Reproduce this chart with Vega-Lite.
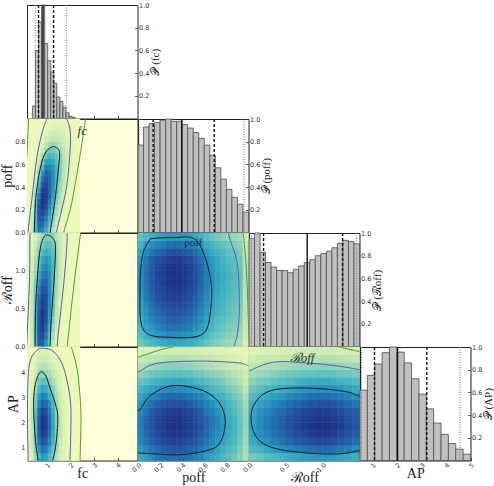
{
"$schema": "https://vega.github.io/schema/vega-lite/v6.json",
"padding": {"left": 0, "top": 1, "right": 0, "bottom": 0},
"background": "white",
"spacing": 0,
"bounds": "flush",
"columns": 4,
"resolve": {"scale": {"fill": "independent", "stroke": "independent"}},
"config": {
  "view": {"stroke": "#222", "strokeWidth": 1},
  "axis": {"grid": false, "domain": false, "tickSize": -3, "tickColor": "#333", "tickWidth": 0.8, "labelFontSize": 6.5, "labelFont": "DejaVu Sans", "labelColor": "#333", "labelPadding": 5, "labelFlush": false, "labelOverlap": false, "titleFont": "Liberation Serif", "titleFontSize": 14, "titleFontWeight": "normal", "titleColor": "#222", "titlePadding": 0},
  "axisBottom": {"titlePadding": -3, "labelPadding": 4},
  "axisRight": {"labelPadding": 4}
},
"datasets": {
  "fgrid": [{"i":1,"a":0.15,"b":0.3},{"i":2,"a":0.3,"b":0.45},{"i":3,"a":0.45,"b":0.6},{"i":4,"a":0.6,"b":0.75},{"i":5,"a":0.75,"b":0.9},{"i":6,"a":0.9,"b":1.05},{"i":7,"a":1.05,"b":1.2},{"i":8,"a":1.2,"b":1.35},{"i":9,"a":1.35,"b":1.5},{"i":10,"a":1.5,"b":1.65},{"i":11,"a":1.65,"b":1.8},{"i":12,"a":1.8,"b":1.95},{"i":13,"a":1.95,"b":2.1},{"i":14,"a":2.1,"b":2.25},{"i":15,"a":2.25,"b":2.4}],
  "pgrid": [{"i":1,"a":0,"b":0.05},{"i":2,"a":0.05,"b":0.1},{"i":3,"a":0.1,"b":0.15},{"i":4,"a":0.15,"b":0.2},{"i":5,"a":0.2,"b":0.25},{"i":6,"a":0.25,"b":0.3},{"i":7,"a":0.3,"b":0.35},{"i":8,"a":0.35,"b":0.4},{"i":9,"a":0.4,"b":0.45},{"i":10,"a":0.45,"b":0.5},{"i":11,"a":0.5,"b":0.55},{"i":12,"a":0.55,"b":0.6},{"i":13,"a":0.6,"b":0.65},{"i":14,"a":0.65,"b":0.7},{"i":15,"a":0.7,"b":0.75},{"i":16,"a":0.75,"b":0.8},{"i":17,"a":0.8,"b":0.85},{"i":18,"a":0.85,"b":0.9},{"i":19,"a":0.9,"b":0.95},{"i":20,"a":0.95,"b":1}],
  "rgrid": [{"i":1,"a":0,"b":0.1},{"i":2,"a":0.1,"b":0.2},{"i":3,"a":0.2,"b":0.3},{"i":4,"a":0.3,"b":0.4},{"i":5,"a":0.4,"b":0.5},{"i":6,"a":0.5,"b":0.6},{"i":7,"a":0.6,"b":0.7},{"i":8,"a":0.7,"b":0.8},{"i":9,"a":0.8,"b":0.9},{"i":10,"a":0.9,"b":1},{"i":11,"a":1,"b":1.1},{"i":12,"a":1.1,"b":1.2},{"i":13,"a":1.2,"b":1.3},{"i":14,"a":1.3,"b":1.4},{"i":15,"a":1.4,"b":1.5}],
  "hA": [
    {"y0":0,"y1":0.05,"v":[0.03,0.17,0.51,0.73,0.67,0.53,0.36,0.21,0.11,0.05,0.02,0.01,0,0,0]},
    {"y0":0.05,"y1":0.1,"v":[0.02,0.16,0.5,0.79,0.76,0.62,0.44,0.27,0.14,0.06,0.02,0.01,0,0,0]},
    {"y0":0.1,"y1":0.15,"v":[0.02,0.14,0.49,0.84,0.84,0.71,0.52,0.33,0.18,0.09,0.04,0.01,0,0,0]},
    {"y0":0.15,"y1":0.2,"v":[0.02,0.13,0.46,0.86,0.91,0.8,0.6,0.4,0.23,0.12,0.05,0.02,0.01,0,0]},
    {"y0":0.2,"y1":0.25,"v":[0.02,0.11,0.42,0.86,0.97,0.87,0.69,0.47,0.29,0.15,0.07,0.03,0.01,0,0]},
    {"y0":0.25,"y1":0.3,"v":[0.01,0.09,0.37,0.8,1,0.92,0.75,0.54,0.34,0.19,0.09,0.04,0.02,0.01,0]},
    {"y0":0.3,"y1":0.35,"v":[0.01,0.07,0.3,0.72,0.99,0.94,0.79,0.59,0.39,0.23,0.12,0.05,0.02,0.01,0]},
    {"y0":0.35,"y1":0.4,"v":[0.01,0.05,0.24,0.62,0.94,0.93,0.81,0.62,0.43,0.26,0.14,0.07,0.03,0.01,0]},
    {"y0":0.4,"y1":0.45,"v":[0.01,0.04,0.18,0.51,0.86,0.91,0.81,0.65,0.46,0.29,0.17,0.09,0.04,0.02,0]},
    {"y0":0.45,"y1":0.5,"v":[0,0.03,0.14,0.41,0.76,0.87,0.8,0.66,0.49,0.32,0.19,0.1,0.05,0.02,0]},
    {"y0":0.5,"y1":0.55,"v":[0,0.02,0.1,0.31,0.63,0.8,0.76,0.65,0.5,0.34,0.21,0.12,0.06,0.03,0.01]},
    {"y0":0.55,"y1":0.6,"v":[0,0.01,0.07,0.23,0.49,0.7,0.69,0.61,0.49,0.35,0.22,0.13,0.07,0.03,0.01]},
    {"y0":0.6,"y1":0.65,"v":[0,0.01,0.04,0.16,0.37,0.57,0.6,0.55,0.45,0.34,0.23,0.14,0.08,0.04,0.02]},
    {"y0":0.65,"y1":0.7,"v":[0,0.01,0.03,0.1,0.26,0.43,0.5,0.47,0.4,0.31,0.22,0.14,0.08,0.04,0.02]},
    {"y0":0.7,"y1":0.75,"v":[0,0.01,0.02,0.06,0.16,0.31,0.39,0.38,0.33,0.26,0.19,0.13,0.08,0.04,0.02]},
    {"y0":0.75,"y1":0.8,"v":[0,0,0.01,0.03,0.1,0.2,0.28,0.29,0.26,0.21,0.16,0.11,0.07,0.04,0.02]},
    {"y0":0.8,"y1":0.85,"v":[0,0,0.01,0.02,0.06,0.12,0.19,0.21,0.2,0.17,0.13,0.09,0.06,0.04,0.02]},
    {"y0":0.85,"y1":0.9,"v":[0,0,0,0.01,0.03,0.07,0.12,0.14,0.13,0.12,0.1,0.07,0.05,0.03,0.02]},
    {"y0":0.9,"y1":0.95,"v":[0,0,0,0,0.01,0.04,0.07,0.09,0.09,0.08,0.07,0.05,0.04,0.02,0.01]},
    {"y0":0.95,"y1":1,"v":[0,0,0,0,0,0.02,0.03,0.05,0.05,0.05,0.04,0.03,0.02,0.01,0.01]}
  ],
  "hB": [
    {"y0":0,"y1":0.1,"v":[0.02,0.13,0.44,0.81,0.83,0.64,0.4,0.2,0.08,0.02,0.01,0,0,0,0]},
    {"y0":0.1,"y1":0.2,"v":[0.03,0.15,0.47,0.85,0.9,0.72,0.47,0.24,0.1,0.03,0.01,0,0,0,0]},
    {"y0":0.2,"y1":0.3,"v":[0.03,0.16,0.49,0.87,0.96,0.8,0.54,0.29,0.13,0.05,0.01,0,0,0,0]},
    {"y0":0.3,"y1":0.4,"v":[0.04,0.18,0.49,0.88,0.99,0.86,0.6,0.34,0.16,0.06,0.02,0.01,0,0,0]},
    {"y0":0.4,"y1":0.5,"v":[0.05,0.18,0.48,0.85,1,0.88,0.64,0.38,0.19,0.08,0.03,0.01,0,0,0]},
    {"y0":0.5,"y1":0.6,"v":[0.05,0.18,0.45,0.8,0.97,0.88,0.66,0.42,0.21,0.09,0.03,0.01,0,0,0]},
    {"y0":0.6,"y1":0.7,"v":[0.05,0.17,0.43,0.74,0.93,0.87,0.68,0.44,0.24,0.11,0.04,0.01,0,0,0]},
    {"y0":0.7,"y1":0.8,"v":[0.05,0.17,0.39,0.68,0.87,0.84,0.68,0.46,0.26,0.12,0.05,0.02,0,0,0]},
    {"y0":0.8,"y1":0.9,"v":[0.05,0.15,0.35,0.61,0.8,0.8,0.67,0.47,0.28,0.14,0.06,0.02,0.01,0,0]},
    {"y0":0.9,"y1":1,"v":[0.05,0.14,0.31,0.54,0.72,0.75,0.65,0.48,0.29,0.15,0.07,0.03,0.01,0,0]},
    {"y0":1,"y1":1.1,"v":[0.04,0.12,0.27,0.47,0.64,0.69,0.61,0.46,0.3,0.17,0.08,0.03,0.01,0,0]},
    {"y0":1.1,"y1":1.2,"v":[0.04,0.11,0.23,0.41,0.56,0.62,0.57,0.45,0.3,0.17,0.09,0.04,0.01,0,0]},
    {"y0":1.2,"y1":1.3,"v":[0.04,0.09,0.19,0.34,0.47,0.54,0.51,0.42,0.29,0.18,0.09,0.04,0.02,0,0]},
    {"y0":1.3,"y1":1.4,"v":[0.03,0.07,0.16,0.27,0.38,0.45,0.44,0.37,0.26,0.17,0.09,0.04,0.02,0,0]},
    {"y0":1.4,"y1":1.5,"v":[0.02,0.06,0.12,0.2,0.29,0.35,0.35,0.31,0.23,0.15,0.09,0.04,0.02,0,0]}
  ],
  "hC": [
    {"y0":0.5,"y1":0.8,"v":[0.03,0.11,0.29,0.52,0.62,0.58,0.47,0.35,0.22,0.12,0.06,0.03,0.01,0,0]},
    {"y0":0.8,"y1":1.1,"v":[0.03,0.14,0.36,0.63,0.76,0.71,0.58,0.42,0.27,0.15,0.08,0.03,0.01,0,0]},
    {"y0":1.1,"y1":1.4,"v":[0.04,0.16,0.41,0.73,0.88,0.82,0.67,0.49,0.31,0.17,0.09,0.04,0.01,0,0]},
    {"y0":1.4,"y1":1.7,"v":[0.04,0.17,0.45,0.8,0.96,0.9,0.74,0.53,0.34,0.19,0.1,0.04,0.02,0,0]},
    {"y0":1.7,"y1":2,"v":[0.05,0.18,0.47,0.84,1,0.93,0.77,0.56,0.36,0.2,0.1,0.04,0.02,0.01,0]},
    {"y0":2,"y1":2.3,"v":[0.05,0.18,0.46,0.83,0.99,0.92,0.76,0.55,0.35,0.2,0.1,0.04,0.02,0,0]},
    {"y0":2.3,"y1":2.6,"v":[0.04,0.17,0.44,0.78,0.93,0.87,0.71,0.52,0.33,0.18,0.09,0.04,0.01,0,0]},
    {"y0":2.6,"y1":2.9,"v":[0.04,0.15,0.39,0.69,0.83,0.78,0.64,0.46,0.29,0.16,0.08,0.04,0.01,0,0]},
    {"y0":2.9,"y1":3.2,"v":[0.03,0.13,0.33,0.59,0.71,0.66,0.54,0.4,0.25,0.14,0.07,0.03,0.01,0,0]},
    {"y0":3.2,"y1":3.5,"v":[0.03,0.1,0.27,0.48,0.58,0.54,0.44,0.32,0.21,0.11,0.06,0.02,0.01,0,0]},
    {"y0":3.5,"y1":3.8,"v":[0.02,0.08,0.21,0.38,0.45,0.42,0.34,0.25,0.16,0.09,0.04,0.02,0.01,0,0]},
    {"y0":3.8,"y1":4.1,"v":[0.02,0.06,0.15,0.28,0.33,0.31,0.25,0.18,0.12,0.07,0.03,0.01,0.01,0,0]},
    {"y0":4.1,"y1":4.4,"v":[0.01,0.04,0.11,0.19,0.23,0.21,0.18,0.13,0.08,0.05,0.02,0.01,0,0,0]},
    {"y0":4.4,"y1":4.7,"v":[0.01,0.03,0.07,0.13,0.15,0.14,0.11,0.08,0.05,0.03,0.01,0.01,0,0,0]},
    {"y0":4.7,"y1":5,"v":[0,0.02,0.04,0.08,0.09,0.08,0.07,0.05,0.03,0.02,0.01,0,0,0,0]}
  ],
  "hD": [
    {"y0":0,"y1":0.1,"v":[0.25,0.31,0.35,0.39,0.42,0.44,0.45,0.45,0.43,0.41,0.37,0.33,0.28,0.24,0.21,0.18,0.17,0.15,0.13,0.05]},
    {"y0":0.1,"y1":0.2,"v":[0.31,0.39,0.44,0.5,0.53,0.56,0.57,0.56,0.55,0.52,0.47,0.42,0.35,0.3,0.26,0.23,0.21,0.19,0.16,0.07]},
    {"y0":0.2,"y1":0.3,"v":[0.36,0.45,0.51,0.57,0.61,0.65,0.66,0.65,0.63,0.6,0.55,0.48,0.41,0.35,0.3,0.27,0.24,0.22,0.18,0.08]},
    {"y0":0.3,"y1":0.4,"v":[0.41,0.5,0.58,0.64,0.69,0.73,0.74,0.73,0.71,0.67,0.61,0.54,0.46,0.39,0.34,0.3,0.27,0.24,0.21,0.09]},
    {"y0":0.4,"y1":0.5,"v":[0.44,0.54,0.62,0.7,0.74,0.78,0.8,0.79,0.77,0.73,0.66,0.58,0.5,0.42,0.37,0.33,0.3,0.26,0.22,0.1]},
    {"y0":0.5,"y1":0.6,"v":[0.47,0.58,0.67,0.75,0.8,0.84,0.86,0.85,0.83,0.78,0.71,0.63,0.53,0.46,0.4,0.35,0.32,0.28,0.24,0.1]},
    {"y0":0.6,"y1":0.7,"v":[0.5,0.62,0.71,0.79,0.85,0.89,0.91,0.9,0.87,0.83,0.76,0.66,0.56,0.48,0.42,0.37,0.34,0.3,0.25,0.11]},
    {"y0":0.7,"y1":0.8,"v":[0.52,0.65,0.74,0.83,0.88,0.93,0.95,0.94,0.91,0.86,0.79,0.69,0.59,0.5,0.44,0.39,0.35,0.31,0.27,0.11]},
    {"y0":0.8,"y1":0.9,"v":[0.54,0.67,0.77,0.86,0.92,0.97,0.99,0.98,0.95,0.9,0.82,0.72,0.61,0.52,0.46,0.41,0.37,0.33,0.28,0.12]},
    {"y0":0.9,"y1":1,"v":[0.55,0.68,0.78,0.87,0.93,0.98,1,0.99,0.96,0.91,0.83,0.73,0.62,0.53,0.46,0.41,0.37,0.33,0.28,0.12]},
    {"y0":1,"y1":1.1,"v":[0.54,0.67,0.76,0.85,0.91,0.96,0.98,0.97,0.94,0.89,0.81,0.72,0.61,0.52,0.45,0.4,0.36,0.32,0.27,0.12]},
    {"y0":1.1,"y1":1.2,"v":[0.51,0.63,0.73,0.81,0.86,0.91,0.93,0.92,0.89,0.85,0.77,0.68,0.58,0.49,0.43,0.38,0.34,0.31,0.26,0.11]},
    {"y0":1.2,"y1":1.3,"v":[0.45,0.56,0.64,0.71,0.76,0.8,0.82,0.81,0.79,0.75,0.68,0.6,0.51,0.43,0.38,0.34,0.3,0.27,0.23,0.1]},
    {"y0":1.3,"y1":1.4,"v":[0.37,0.46,0.53,0.59,0.63,0.67,0.68,0.67,0.65,0.62,0.56,0.5,0.42,0.36,0.31,0.28,0.25,0.22,0.19,0.08]},
    {"y0":1.4,"y1":1.5,"v":[0.29,0.35,0.41,0.45,0.48,0.51,0.52,0.51,0.5,0.47,0.43,0.38,0.32,0.28,0.24,0.21,0.19,0.17,0.15,0.06]}
  ],
  "hE": [
    {"y0":0.5,"y1":0.8,"v":[0.43,0.5,0.57,0.62,0.66,0.69,0.7,0.69,0.68,0.65,0.61,0.56,0.5,0.45,0.4,0.35,0.31,0.26,0.2,0.13]},
    {"y0":0.8,"y1":1.1,"v":[0.5,0.58,0.65,0.7,0.75,0.78,0.8,0.79,0.78,0.74,0.7,0.64,0.58,0.51,0.46,0.4,0.35,0.3,0.23,0.14]},
    {"y0":1.1,"y1":1.4,"v":[0.56,0.65,0.73,0.79,0.85,0.88,0.9,0.89,0.87,0.84,0.78,0.72,0.65,0.58,0.51,0.45,0.4,0.33,0.26,0.16]},
    {"y0":1.4,"y1":1.7,"v":[0.6,0.7,0.79,0.85,0.91,0.95,0.97,0.96,0.94,0.9,0.84,0.78,0.7,0.62,0.55,0.49,0.43,0.36,0.28,0.17]},
    {"y0":1.7,"y1":2,"v":[0.62,0.72,0.81,0.88,0.94,0.98,1,0.99,0.97,0.93,0.87,0.8,0.72,0.64,0.57,0.5,0.44,0.37,0.29,0.18]},
    {"y0":2,"y1":2.3,"v":[0.61,0.71,0.79,0.86,0.92,0.96,0.98,0.97,0.95,0.91,0.85,0.78,0.71,0.63,0.56,0.49,0.43,0.36,0.28,0.18]},
    {"y0":2.3,"y1":2.6,"v":[0.57,0.66,0.75,0.81,0.86,0.9,0.92,0.91,0.89,0.86,0.8,0.74,0.66,0.59,0.52,0.46,0.4,0.34,0.27,0.17]},
    {"y0":2.6,"y1":2.9,"v":[0.51,0.6,0.67,0.73,0.78,0.81,0.83,0.82,0.81,0.77,0.72,0.66,0.6,0.53,0.47,0.42,0.37,0.31,0.24,0.15]},
    {"y0":2.9,"y1":3.2,"v":[0.44,0.51,0.58,0.62,0.67,0.7,0.71,0.7,0.69,0.66,0.62,0.57,0.51,0.45,0.4,0.36,0.31,0.26,0.21,0.13]},
    {"y0":3.2,"y1":3.5,"v":[0.35,0.41,0.46,0.5,0.54,0.56,0.57,0.56,0.55,0.53,0.5,0.46,0.41,0.36,0.32,0.29,0.25,0.21,0.17,0.1]},
    {"y0":3.5,"y1":3.8,"v":[0.27,0.31,0.35,0.38,0.4,0.42,0.43,0.43,0.42,0.4,0.37,0.34,0.31,0.28,0.25,0.22,0.19,0.16,0.12,0.08]},
    {"y0":3.8,"y1":4.1,"v":[0.19,0.22,0.25,0.27,0.29,0.3,0.31,0.31,0.3,0.29,0.27,0.25,0.22,0.2,0.18,0.16,0.14,0.11,0.09,0.06]},
    {"y0":4.1,"y1":4.4,"v":[0.12,0.14,0.16,0.18,0.19,0.2,0.2,0.2,0.19,0.19,0.17,0.16,0.14,0.13,0.11,0.1,0.09,0.07,0.06,0.04]},
    {"y0":4.4,"y1":4.7,"v":[0.07,0.09,0.1,0.11,0.11,0.12,0.12,0.12,0.12,0.11,0.1,0.1,0.09,0.08,0.07,0.06,0.05,0.04,0.03,0.02]},
    {"y0":4.7,"y1":5,"v":[0.04,0.04,0.05,0.05,0.06,0.06,0.06,0.06,0.06,0.06,0.05,0.05,0.04,0.04,0.03,0.03,0.03,0.02,0.02,0.01]}
  ],
  "hF": [
    {"y0":0.5,"y1":0.8,"v":[0.24,0.28,0.32,0.35,0.38,0.41,0.44,0.47,0.49,0.5,0.5,0.48,0.46,0.43,0.4]},
    {"y0":0.8,"y1":1.1,"v":[0.34,0.39,0.44,0.49,0.53,0.57,0.62,0.65,0.68,0.7,0.69,0.67,0.64,0.6,0.55]},
    {"y0":1.1,"y1":1.4,"v":[0.41,0.48,0.54,0.6,0.65,0.7,0.75,0.79,0.82,0.85,0.84,0.82,0.77,0.72,0.67]},
    {"y0":1.4,"y1":1.7,"v":[0.46,0.53,0.6,0.67,0.72,0.78,0.84,0.88,0.92,0.95,0.94,0.91,0.86,0.81,0.75]},
    {"y0":1.7,"y1":2,"v":[0.48,0.56,0.63,0.7,0.76,0.82,0.88,0.93,0.97,1,0.99,0.96,0.91,0.85,0.79]},
    {"y0":2,"y1":2.3,"v":[0.47,0.55,0.62,0.69,0.74,0.8,0.86,0.91,0.95,0.98,0.97,0.94,0.89,0.83,0.77]},
    {"y0":2.3,"y1":2.6,"v":[0.44,0.52,0.58,0.64,0.7,0.75,0.81,0.86,0.89,0.92,0.91,0.88,0.84,0.78,0.73]},
    {"y0":2.6,"y1":2.9,"v":[0.39,0.46,0.52,0.57,0.62,0.67,0.72,0.76,0.8,0.82,0.81,0.79,0.75,0.7,0.65]},
    {"y0":2.9,"y1":3.2,"v":[0.33,0.39,0.43,0.48,0.52,0.57,0.61,0.64,0.67,0.69,0.68,0.66,0.63,0.59,0.55]},
    {"y0":3.2,"y1":3.5,"v":[0.26,0.31,0.35,0.39,0.42,0.45,0.48,0.51,0.53,0.55,0.54,0.53,0.5,0.47,0.43]},
    {"y0":3.5,"y1":3.8,"v":[0.2,0.24,0.26,0.29,0.32,0.34,0.37,0.39,0.41,0.42,0.42,0.4,0.38,0.36,0.33]},
    {"y0":3.8,"y1":4.1,"v":[0.14,0.17,0.19,0.21,0.23,0.25,0.26,0.28,0.29,0.3,0.3,0.29,0.27,0.26,0.24]},
    {"y0":4.1,"y1":4.4,"v":[0.1,0.11,0.13,0.14,0.15,0.16,0.18,0.19,0.19,0.2,0.2,0.19,0.18,0.17,0.16]},
    {"y0":4.4,"y1":4.7,"v":[0.06,0.07,0.08,0.08,0.09,0.1,0.11,0.11,0.12,0.12,0.12,0.12,0.11,0.1,0.09]},
    {"y0":4.7,"y1":5,"v":[0.03,0.03,0.04,0.04,0.05,0.05,0.05,0.06,0.06,0.06,0.06,0.06,0.05,0.05,0.05]}
  ],
  "cont": [
    {"pn":"A","g":"A1","c":"in","o":1,"a":0.44,"y0":-0.1},{"pn":"A","g":"A1","c":"in","o":2,"a":0.455,"y0":0},{"pn":"A","g":"A1","c":"in","o":3,"a":0.5,"y0":0.215},{"pn":"A","g":"A1","c":"in","o":4,"a":0.57,"y0":0.39},{"pn":"A","g":"A1","c":"in","o":5,"a":0.74,"y0":0.59},{"pn":"A","g":"A1","c":"in","o":6,"a":0.93,"y0":0.7},{"pn":"A","g":"A1","c":"in","o":7,"a":1.21,"y0":0.755},{"pn":"A","g":"A1","c":"in","o":8,"a":1.46,"y0":0.74},{"pn":"A","g":"A1","c":"in","o":9,"a":1.54,"y0":0.69},{"pn":"A","g":"A1","c":"in","o":10,"a":1.5,"y0":0.59},{"pn":"A","g":"A1","c":"in","o":11,"a":1.43,"y0":0.44},{"pn":"A","g":"A1","c":"in","o":12,"a":1.33,"y0":0.27},{"pn":"A","g":"A1","c":"in","o":13,"a":1.21,"y0":0.1},{"pn":"A","g":"A1","c":"in","o":14,"a":1.14,"y0":0},{"pn":"A","g":"A1","c":"in","o":15,"a":1.12,"y0":-0.1},
    {"pn":"A","g":"A2","c":"mid","o":1,"a":0.18,"y0":-0.1},{"pn":"A","g":"A2","c":"mid","o":2,"a":0.21,"y0":0.03},{"pn":"A","g":"A2","c":"mid","o":3,"a":0.36,"y0":0.3},{"pn":"A","g":"A2","c":"mid","o":4,"a":0.57,"y0":0.66},{"pn":"A","g":"A2","c":"mid","o":5,"a":0.85,"y0":0.92},{"pn":"A","g":"A2","c":"mid","o":6,"a":1.14,"y0":1.04},{"pn":"A","g":"A2","c":"mid","o":7,"a":1.5,"y0":1.06},{"pn":"A","g":"A2","c":"mid","o":8,"a":1.86,"y0":0.99},{"pn":"A","g":"A2","c":"mid","o":9,"a":2.0,"y0":0.83},{"pn":"A","g":"A2","c":"mid","o":10,"a":1.86,"y0":0.44},{"pn":"A","g":"A2","c":"mid","o":11,"a":1.57,"y0":0.15},{"pn":"A","g":"A2","c":"mid","o":12,"a":1.4,"y0":0},{"pn":"A","g":"A2","c":"mid","o":13,"a":1.36,"y0":-0.1},
    {"pn":"A","g":"A3","c":"out","o":1,"a":2.75,"y0":1.15},{"pn":"A","g":"A3","c":"out","o":2,"a":2.64,"y0":1.0},{"pn":"A","g":"A3","c":"out","o":3,"a":2.43,"y0":0.71},{"pn":"A","g":"A3","c":"out","o":4,"a":2.21,"y0":0.44},{"pn":"A","g":"A3","c":"out","o":5,"a":2.0,"y0":0.21},{"pn":"A","g":"A3","c":"out","o":6,"a":1.71,"y0":0},{"pn":"A","g":"A3","c":"out","o":7,"a":1.65,"y0":-0.1},
    {"pn":"A","g":"A4","c":"out","o":1,"a":0.05,"y0":0.45},{"pn":"A","g":"A4","c":"out","o":2,"a":0.15,"y0":0.7},{"pn":"A","g":"A4","c":"out","o":3,"a":0.22,"y0":1.0},{"pn":"A","g":"A4","c":"out","o":4,"a":0.28,"y0":1.15},
    {"pn":"B","g":"B1","c":"in","o":1,"a":0.5,"y0":-0.1},{"pn":"B","g":"B1","c":"in","o":2,"a":0.5,"y0":0.23},{"pn":"B","g":"B1","c":"in","o":3,"a":0.54,"y0":0.66},{"pn":"B","g":"B1","c":"in","o":4,"a":0.64,"y0":1.1},{"pn":"B","g":"B1","c":"in","o":5,"a":0.75,"y0":1.35},{"pn":"B","g":"B1","c":"in","o":6,"a":0.9,"y0":1.46},{"pn":"B","g":"B1","c":"in","o":7,"a":1.07,"y0":1.47},{"pn":"B","g":"B1","c":"in","o":8,"a":1.25,"y0":1.43},{"pn":"B","g":"B1","c":"in","o":9,"a":1.36,"y0":1.32},{"pn":"B","g":"B1","c":"in","o":10,"a":1.31,"y0":0.92},{"pn":"B","g":"B1","c":"in","o":11,"a":1.21,"y0":0.49},{"pn":"B","g":"B1","c":"in","o":12,"a":1.14,"y0":0.1},{"pn":"B","g":"B1","c":"in","o":13,"a":1.12,"y0":-0.1},
    {"pn":"B","g":"B2","c":"mid","o":1,"a":0.12,"y0":-0.1},{"pn":"B","g":"B2","c":"mid","o":2,"a":0.17,"y0":0.23},{"pn":"B","g":"B2","c":"mid","o":3,"a":0.26,"y0":0.92},{"pn":"B","g":"B2","c":"mid","o":4,"a":0.28,"y0":1.5},{"pn":"B","g":"B2","c":"mid","o":5,"a":0.4,"y0":1.75},{"pn":"B","g":"B2","c":"mid","o":6,"a":1.0,"y0":1.85},{"pn":"B","g":"B2","c":"mid","o":7,"a":1.7,"y0":1.75},{"pn":"B","g":"B2","c":"mid","o":8,"a":1.86,"y0":1.5},{"pn":"B","g":"B2","c":"mid","o":9,"a":1.74,"y0":0.92},{"pn":"B","g":"B2","c":"mid","o":10,"a":1.5,"y0":0.23},{"pn":"B","g":"B2","c":"mid","o":11,"a":1.43,"y0":0},{"pn":"B","g":"B2","c":"mid","o":12,"a":1.41,"y0":-0.1},
    {"pn":"B","g":"B3","c":"out","o":1,"a":2.48,"y0":1.7},{"pn":"B","g":"B3","c":"out","o":2,"a":2.43,"y0":1.5},{"pn":"B","g":"B3","c":"out","o":3,"a":2.14,"y0":0.8},{"pn":"B","g":"B3","c":"out","o":4,"a":1.86,"y0":0},{"pn":"B","g":"B3","c":"out","o":5,"a":1.83,"y0":-0.1},
    {"pn":"C","g":"C1","c":"in","o":1,"a":0.66,"y0":0.3},{"pn":"C","g":"C1","c":"in","o":2,"a":0.62,"y0":0.5},{"pn":"C","g":"C1","c":"in","o":3,"a":0.5,"y0":1.39},{"pn":"C","g":"C1","c":"in","o":4,"a":0.43,"y0":2.69},{"pn":"C","g":"C1","c":"in","o":5,"a":0.5,"y0":3.5},{"pn":"C","g":"C1","c":"in","o":6,"a":0.71,"y0":4.0},{"pn":"C","g":"C1","c":"in","o":7,"a":0.95,"y0":3.85},{"pn":"C","g":"C1","c":"in","o":8,"a":1.14,"y0":3.34},{"pn":"C","g":"C1","c":"in","o":9,"a":1.4,"y0":2.6},{"pn":"C","g":"C1","c":"in","o":10,"a":1.46,"y0":2.04},{"pn":"C","g":"C1","c":"in","o":11,"a":1.36,"y0":1.0},{"pn":"C","g":"C1","c":"in","o":12,"a":1.24,"y0":0.5},{"pn":"C","g":"C1","c":"in","o":13,"a":1.2,"y0":0.3},
    {"pn":"C","g":"C2","c":"mid","o":1,"a":0.22,"y0":0.3},{"pn":"C","g":"C2","c":"mid","o":2,"a":0.2,"y0":0.6},{"pn":"C","g":"C2","c":"mid","o":3,"a":0.17,"y0":2.7},{"pn":"C","g":"C2","c":"mid","o":4,"a":0.25,"y0":4.3},{"pn":"C","g":"C2","c":"mid","o":5,"a":0.55,"y0":4.85},{"pn":"C","g":"C2","c":"mid","o":6,"a":0.85,"y0":4.95},{"pn":"C","g":"C2","c":"mid","o":7,"a":1.3,"y0":4.8},{"pn":"C","g":"C2","c":"mid","o":8,"a":1.7,"y0":4.2},{"pn":"C","g":"C2","c":"mid","o":9,"a":1.98,"y0":3.0},{"pn":"C","g":"C2","c":"mid","o":10,"a":2.02,"y0":2.0},{"pn":"C","g":"C2","c":"mid","o":11,"a":1.98,"y0":0.6},{"pn":"C","g":"C2","c":"mid","o":12,"a":1.96,"y0":0.3},
    {"pn":"C","g":"C3","c":"out","o":1,"a":2.4,"y0":0.3},{"pn":"C","g":"C3","c":"out","o":2,"a":2.42,"y0":1.0},{"pn":"C","g":"C3","c":"out","o":3,"a":2.44,"y0":2.5},{"pn":"C","g":"C3","c":"out","o":4,"a":2.3,"y0":4.0},{"pn":"C","g":"C3","c":"out","o":5,"a":2.07,"y0":4.9},{"pn":"C","g":"C3","c":"out","o":6,"a":1.9,"y0":5.3},
    {"pn":"D","g":"D1","c":"in","o":1,"a":0.113,"y0":1.425},{"pn":"D","g":"D1","c":"in","o":2,"a":0.32,"y0":1.44},{"pn":"D","g":"D1","c":"in","o":3,"a":0.53,"y0":1.4},{"pn":"D","g":"D1","c":"in","o":4,"a":0.65,"y0":0.95},{"pn":"D","g":"D1","c":"in","o":5,"a":0.66,"y0":0.52},{"pn":"D","g":"D1","c":"in","o":6,"a":0.59,"y0":0.17},{"pn":"D","g":"D1","c":"in","o":7,"a":0.32,"y0":0.12},{"pn":"D","g":"D1","c":"in","o":8,"a":0.054,"y0":0.21},{"pn":"D","g":"D1","c":"in","o":9,"a":0.018,"y0":0.73},{"pn":"D","g":"D1","c":"in","o":10,"a":0.04,"y0":1.2},{"pn":"D","g":"D1","c":"in","o":11,"a":0.113,"y0":1.425},
    {"pn":"D","g":"D2","c":"mid","o":1,"a":0.8,"y0":1.6},{"pn":"D","g":"D2","c":"mid","o":2,"a":0.83,"y0":1.43},{"pn":"D","g":"D2","c":"mid","o":3,"a":0.9,"y0":1.08},{"pn":"D","g":"D2","c":"mid","o":4,"a":0.917,"y0":0.52},{"pn":"D","g":"D2","c":"mid","o":5,"a":0.9,"y0":0.17},{"pn":"D","g":"D2","c":"mid","o":6,"a":0.87,"y0":0},{"pn":"D","g":"D2","c":"mid","o":7,"a":0.86,"y0":-0.1},
    {"pn":"D","g":"D3","c":"out","o":1,"a":0.94,"y0":1.6},{"pn":"D","g":"D3","c":"out","o":2,"a":0.96,"y0":1.4},{"pn":"D","g":"D3","c":"out","o":3,"a":0.985,"y0":0.9},{"pn":"D","g":"D3","c":"out","o":4,"a":1.0,"y0":0.3},{"pn":"D","g":"D3","c":"out","o":5,"a":1.01,"y0":0},
    {"pn":"E","g":"E1","c":"in","o":1,"a":-0.05,"y0":2.6},{"pn":"E","g":"E1","c":"in","o":2,"a":0.01,"y0":2.49},{"pn":"E","g":"E1","c":"in","o":3,"a":0.113,"y0":3.08},{"pn":"E","g":"E1","c":"in","o":4,"a":0.32,"y0":3.47},{"pn":"E","g":"E1","c":"in","o":5,"a":0.59,"y0":3.27},{"pn":"E","g":"E1","c":"in","o":6,"a":0.74,"y0":2.75},{"pn":"E","g":"E1","c":"in","o":7,"a":0.79,"y0":2.04},{"pn":"E","g":"E1","c":"in","o":8,"a":0.75,"y0":1.26},{"pn":"E","g":"E1","c":"in","o":9,"a":0.65,"y0":0.93},{"pn":"E","g":"E1","c":"in","o":10,"a":0.38,"y0":0.73},{"pn":"E","g":"E1","c":"in","o":11,"a":0.0,"y0":0.8},{"pn":"E","g":"E1","c":"in","o":12,"a":-0.05,"y0":0.8},
    {"pn":"E","g":"E2","c":"mid","o":1,"a":-0.05,"y0":3.9},{"pn":"E","g":"E2","c":"mid","o":2,"a":0,"y0":4.0},{"pn":"E","g":"E2","c":"mid","o":3,"a":0.17,"y0":4.35},{"pn":"E","g":"E2","c":"mid","o":4,"a":0.53,"y0":4.44},{"pn":"E","g":"E2","c":"mid","o":5,"a":0.89,"y0":4.38},{"pn":"E","g":"E2","c":"mid","o":6,"a":1.0,"y0":4.25},{"pn":"E","g":"E2","c":"mid","o":7,"a":1.05,"y0":4.15},
    {"pn":"E","g":"E3","c":"out","o":1,"a":-0.05,"y0":4.5},{"pn":"E","g":"E3","c":"out","o":2,"a":0,"y0":4.59},{"pn":"E","g":"E3","c":"out","o":3,"a":0.23,"y0":4.92},{"pn":"E","g":"E3","c":"out","o":4,"a":0.45,"y0":5.1},
    {"pn":"F","g":"F1","c":"in","o":1,"a":1.6,"y0":3.0},{"pn":"F","g":"F1","c":"in","o":2,"a":1.46,"y0":3.08},{"pn":"F","g":"F1","c":"in","o":3,"a":1.35,"y0":3.21},{"pn":"F","g":"F1","c":"in","o":4,"a":1.0,"y0":3.34},{"pn":"F","g":"F1","c":"in","o":5,"a":0.55,"y0":3.37},{"pn":"F","g":"F1","c":"in","o":6,"a":0.24,"y0":3.21},{"pn":"F","g":"F1","c":"in","o":7,"a":0.064,"y0":2.69},{"pn":"F","g":"F1","c":"in","o":8,"a":0.03,"y0":2.04},{"pn":"F","g":"F1","c":"in","o":9,"a":0.11,"y0":1.39},{"pn":"F","g":"F1","c":"in","o":10,"a":0.33,"y0":1.0},{"pn":"F","g":"F1","c":"in","o":11,"a":0.78,"y0":0.8},{"pn":"F","g":"F1","c":"in","o":12,"a":1.22,"y0":0.76},{"pn":"F","g":"F1","c":"in","o":13,"a":1.46,"y0":0.87},{"pn":"F","g":"F1","c":"in","o":14,"a":1.6,"y0":0.9},
    {"pn":"F","g":"F2","c":"mid","o":1,"a":-0.05,"y0":4.0},{"pn":"F","g":"F2","c":"mid","o":2,"a":0,"y0":4.05},{"pn":"F","g":"F2","c":"mid","o":3,"a":0.33,"y0":4.4},{"pn":"F","g":"F2","c":"mid","o":4,"a":0.78,"y0":4.37},{"pn":"F","g":"F2","c":"mid","o":5,"a":1.22,"y0":4.24},{"pn":"F","g":"F2","c":"mid","o":6,"a":1.5,"y0":4.1},{"pn":"F","g":"F2","c":"mid","o":7,"a":1.55,"y0":4.08},
    {"pn":"F","g":"F3","c":"out","o":1,"a":1.1,"y0":5.1},{"pn":"F","g":"F3","c":"out","o":2,"a":1.3,"y0":4.95},{"pn":"F","g":"F3","c":"out","o":3,"a":1.5,"y0":4.82},{"pn":"F","g":"F3","c":"out","o":4,"a":1.55,"y0":4.8}
  ]
},
"concat": [
    {"width": 110.5, "height": 113.5,
     "encoding": {"x": {"field": "a", "type": "quantitative", "scale": {"domain": [0.15, 4.85], "nice": false, "zero": false}, "axis": {"values": [1,2,3,4], "labels": false, "title": null}}},
     "layer": [
      {"data": {"values": [{"a":0.38,"b":0.51,"h":0.11},{"a":0.51,"b":0.64,"h":0.6},{"a":0.64,"b":0.77,"h":0.85},{"a":0.77,"b":0.9,"h":1.0},{"a":0.9,"b":1.03,"h":0.66},{"a":1.03,"b":1.16,"h":0.51},{"a":1.16,"b":1.29,"h":0.41},{"a":1.29,"b":1.42,"h":0.31},{"a":1.42,"b":1.55,"h":0.19},{"a":1.55,"b":1.68,"h":0.15},{"a":1.68,"b":1.81,"h":0.1},{"a":1.81,"b":1.94,"h":0.05},{"a":1.94,"b":2.07,"h":0.02},{"a":2.07,"b":2.2,"h":0.01}]},
       "mark": {"type": "rect", "fill": "#c0c0c0", "stroke": "#4d4d4d", "strokeWidth": 0.8},
       "encoding": {
        "x2": {"field": "b"},
        "y": {"field": "h", "type": "quantitative", "scale": {"domain": [0, 1], "nice": false}, "axis": {"orient": "right", "values": [0.2,0.4,0.6,0.8,1.0], "format": ".1f", "title": "𝒫 (fc)", "titleAngle": 270, "titleBaseline": "top", "titleFontSize": 11, "titlePadding": 1}},
        "y2": {"datum": 0}
       }},
      {"data": {"values": [{"a":0.5},{"a":1.82}]}, "mark": {"type": "rule", "stroke": "#777", "strokeDash": [1,1.5], "strokeWidth": 1}, "encoding": {}},
      {"data": {"values": [{"a":0.64},{"a":1.28}]}, "mark": {"type": "rule", "stroke": "#111", "strokeDash": [3,2], "strokeWidth": 1.4}, "encoding": {}},
      {"data": {"values": [{"a":0.83}]}, "mark": {"type": "rule", "stroke": "#111", "strokeWidth": 1.4}, "encoding": {}}
     ]},
    {"width": 110.5, "height": 113.5, "view": {"stroke": null}, "data": {"values": []}, "mark": "point"},
    {"width": 110.5, "height": 113.5, "view": {"stroke": null}, "data": {"values": []}, "mark": "point"},
    {"width": 110.5, "height": 113.5, "view": {"stroke": null}, "data": {"values": []}, "mark": "point"},
    {"width": 110.5, "height": 113.5, "view": {"fill": "#ffffd9", "stroke": "#222"},
     "encoding": {
       "x": {"field": "a", "type": "quantitative", "scale": {"domain": [0.15, 4.85], "nice": false, "zero": false}, "axis": {"values": [1,2,3,4], "labels": false, "title": null}},
       "y": {"field": "y0", "type": "quantitative", "scale": {"domain": [0, 1], "nice": false, "zero": false}, "axis": {"values": [0,0.2,0.4,0.6,0.8], "format": ".1f", "title": "poff"}}
     },
     "layer": [
      {"data": {"name": "hA"},
       "transform": [{"flatten": ["v"]}, {"window": [{"op": "row_number", "as": "i"}], "groupby": ["y0"]}, {"lookup": "i", "from": {"data": {"name": "fgrid"}, "key": "i", "fields": ["a", "b"]}}],
       "mark": {"type": "rect", "strokeWidth": 0.6},
       "encoding": {
        "x2": {"field": "b"},
        "y2": {"field": "y1"},
        "fill": {"field": "v", "type": "quantitative", "scale": {"scheme": "yellowgreenblue", "domain": [0, 1]}, "legend": null},
        "stroke": {"field": "v", "type": "quantitative", "scale": {"scheme": "yellowgreenblue", "domain": [0, 1]}, "legend": null}
       }},
      {"data": {"name": "cont"}, "transform": [{"filter": {"field": "pn", "equal": "A"}}],
       "mark": {"type": "line", "interpolate": "cardinal", "strokeWidth": 1, "clip": true},
       "encoding": {"order": {"field": "o"}, "detail": {"field": "g"}, "color": {"field": "c", "type": "nominal", "scale": {"domain": ["in","mid","out"], "range": ["#1c1c1c","#5b5bb0","#4f9a34"]}, "legend": null}}},
      {"data": {"values": [{"a": 2.5, "y0": 0.89, "t": "fc"}]}, "mark": {"type": "text", "font": "Liberation Serif", "fontStyle": "italic", "fontSize": 13, "color": "#333"},
       "encoding": {"text": {"field": "t"}}}
     ]},
    {"width": 110.5, "height": 113.5,
     "encoding": {"x": {"field": "a", "type": "quantitative", "scale": {"domain": [0, 1], "nice": false, "zero": false}, "axis": {"values": [0,0.2,0.4,0.6,0.8], "labels": false, "title": null}}},
     "layer": [
      {"data": {"values": [{"a":0,"b":0.05,"h":0.77},{"a":0.05,"b":0.1,"h":0.93},{"a":0.1,"b":0.15,"h":0.96},{"a":0.15,"b":0.2,"h":0.97},{"a":0.2,"b":0.25,"h":0.99},{"a":0.25,"b":0.3,"h":1.0},{"a":0.3,"b":0.35,"h":0.98},{"a":0.35,"b":0.4,"h":0.98},{"a":0.4,"b":0.45,"h":0.95},{"a":0.45,"b":0.5,"h":0.92},{"a":0.5,"b":0.55,"h":0.88},{"a":0.55,"b":0.6,"h":0.83},{"a":0.6,"b":0.65,"h":0.77},{"a":0.65,"b":0.7,"h":0.68},{"a":0.7,"b":0.75,"h":0.57},{"a":0.75,"b":0.8,"h":0.47},{"a":0.8,"b":0.85,"h":0.38},{"a":0.85,"b":0.9,"h":0.31},{"a":0.9,"b":0.95,"h":0.25},{"a":0.95,"b":1.0,"h":0.18}]},
       "mark": {"type": "rect", "fill": "#c0c0c0", "stroke": "#4d4d4d", "strokeWidth": 0.8},
       "encoding": {
        "x2": {"field": "b"},
        "y": {"field": "h", "type": "quantitative", "scale": {"domain": [0, 1], "nice": false}, "axis": {"orient": "right", "values": [0.2,0.4,0.6,0.8,1.0], "format": ".1f", "title": "𝒫 (poff)", "titleAngle": 270, "titleBaseline": "top", "titleFontSize": 11, "titlePadding": 1}},
        "y2": {"datum": 0}
       }},
      {"data": {"values": [{"a":0.01},{"a":0.96}]}, "mark": {"type": "rule", "stroke": "#777", "strokeDash": [1,1.5], "strokeWidth": 1}, "encoding": {}},
      {"data": {"values": [{"a":0.137},{"a":0.69}]}, "mark": {"type": "rule", "stroke": "#111", "strokeDash": [3,2], "strokeWidth": 1.4}, "encoding": {}},
      {"data": {"values": [{"a":0.396}]}, "mark": {"type": "rule", "stroke": "#111", "strokeWidth": 1.4}, "encoding": {}}
     ]},
    {"width": 110.5, "height": 113.5, "view": {"stroke": null}, "data": {"values": []}, "mark": "point"},
    {"width": 110.5, "height": 113.5, "view": {"stroke": null}, "data": {"values": []}, "mark": "point"},
    {"width": 110.5, "height": 113.5, "view": {"fill": "#ffffd9", "stroke": "#222"},
     "encoding": {
       "x": {"field": "a", "type": "quantitative", "scale": {"domain": [0.15, 4.85], "nice": false, "zero": false}, "axis": {"values": [1,2,3,4], "labels": false, "title": null}},
       "y": {"field": "y0", "type": "quantitative", "scale": {"domain": [0, 1.5], "nice": false, "zero": false}, "axis": {"values": [0,0.5,1.0], "format": ".1f", "title": "ℛoff"}}
     },
     "layer": [
      {"data": {"name": "hB"},
       "transform": [{"flatten": ["v"]}, {"window": [{"op": "row_number", "as": "i"}], "groupby": ["y0"]}, {"lookup": "i", "from": {"data": {"name": "fgrid"}, "key": "i", "fields": ["a", "b"]}}],
       "mark": {"type": "rect", "strokeWidth": 0.6},
       "encoding": {
        "x2": {"field": "b"},
        "y2": {"field": "y1"},
        "fill": {"field": "v", "type": "quantitative", "scale": {"scheme": "yellowgreenblue", "domain": [0, 1]}, "legend": null},
        "stroke": {"field": "v", "type": "quantitative", "scale": {"scheme": "yellowgreenblue", "domain": [0, 1]}, "legend": null}
       }},
      {"data": {"name": "cont"}, "transform": [{"filter": {"field": "pn", "equal": "B"}}],
       "mark": {"type": "line", "interpolate": "cardinal", "strokeWidth": 1, "clip": true},
       "encoding": {"order": {"field": "o"}, "detail": {"field": "g"}, "color": {"field": "c", "type": "nominal", "scale": {"domain": ["in","mid","out"], "range": ["#1c1c1c","#5b5bb0","#4f9a34"]}, "legend": null}}}
     ]},
    {"width": 110.5, "height": 113.5, "view": {"fill": "#ffffd9", "stroke": "#222"},
     "encoding": {
       "x": {"field": "a", "type": "quantitative", "scale": {"domain": [0, 1], "nice": false, "zero": false}, "axis": {"values": [0,0.2,0.4,0.6,0.8], "labels": false, "title": null}},
       "y": {"field": "y0", "type": "quantitative", "scale": {"domain": [0, 1.5], "nice": false, "zero": false}, "axis": {"values": [0,0.5,1.0], "labels": false, "title": null}}
     },
     "layer": [
      {"data": {"name": "hD"},
       "transform": [{"flatten": ["v"]}, {"window": [{"op": "row_number", "as": "i"}], "groupby": ["y0"]}, {"lookup": "i", "from": {"data": {"name": "pgrid"}, "key": "i", "fields": ["a", "b"]}}],
       "mark": {"type": "rect", "strokeWidth": 0.6},
       "encoding": {
        "x2": {"field": "b"},
        "y2": {"field": "y1"},
        "fill": {"field": "v", "type": "quantitative", "scale": {"type": "pow", "exponent": 0.7, "scheme": "yellowgreenblue", "domain": [0, 1]}, "legend": null},
        "stroke": {"field": "v", "type": "quantitative", "scale": {"type": "pow", "exponent": 0.7, "scheme": "yellowgreenblue", "domain": [0, 1]}, "legend": null}
       }},
      {"data": {"name": "cont"}, "transform": [{"filter": {"field": "pn", "equal": "D"}}],
       "mark": {"type": "line", "interpolate": "cardinal", "strokeWidth": 1, "clip": true},
       "encoding": {"order": {"field": "o"}, "detail": {"field": "g"}, "color": {"field": "c", "type": "nominal", "scale": {"domain": ["in","mid","out"], "range": ["#1c1c1c","#5b5bb0","#4f9a34"]}, "legend": null}}},
      {"data": {"values": [{"a": 0.5, "y0": 1.37, "t": "poff"}]}, "mark": {"type": "text", "font": "Liberation Serif", "fontSize": 11, "color": "#1a2a5a"},
       "encoding": {"text": {"field": "t"}}}
     ]},
    {"width": 110.5, "height": 113.5,
     "encoding": {"x": {"field": "a", "type": "quantitative", "scale": {"domain": [0, 1.5], "nice": false, "zero": false}, "axis": {"values": [0,0.5,1.0], "labels": false, "title": null}}},
     "layer": [
      {"data": {"values": [{"a":0,"b":0.075,"h":0.95},{"a":0.075,"b":0.15,"h":1.0},{"a":0.15,"b":0.225,"h":0.83},{"a":0.225,"b":0.3,"h":0.74},{"a":0.3,"b":0.375,"h":0.7},{"a":0.375,"b":0.45,"h":0.67},{"a":0.45,"b":0.525,"h":0.67},{"a":0.525,"b":0.6,"h":0.65},{"a":0.6,"b":0.675,"h":0.68},{"a":0.675,"b":0.75,"h":0.71},{"a":0.75,"b":0.825,"h":0.74},{"a":0.825,"b":0.9,"h":0.765},{"a":0.9,"b":0.975,"h":0.8},{"a":0.975,"b":1.05,"h":0.82},{"a":1.05,"b":1.125,"h":0.84},{"a":1.125,"b":1.2,"h":0.87},{"a":1.2,"b":1.275,"h":0.91},{"a":1.275,"b":1.35,"h":0.935},{"a":1.35,"b":1.425,"h":0.925},{"a":1.425,"b":1.5,"h":0.905}]},
       "mark": {"type": "rect", "fill": "#c0c0c0", "stroke": "#4d4d4d", "strokeWidth": 0.8},
       "encoding": {
        "x2": {"field": "b"},
        "y": {"field": "h", "type": "quantitative", "scale": {"domain": [0, 1], "nice": false}, "axis": {"orient": "right", "values": [0.2,0.4,0.6,0.8,1.0], "format": ".1f", "title": "𝒫 (ℛoff)", "titleAngle": 270, "titleBaseline": "top", "titleFontSize": 11, "titlePadding": 1}},
        "y2": {"datum": 0}
       }},
      {"data": {"values": [{"a":0.033},{"a":1.46}]}, "mark": {"type": "rule", "stroke": "#777", "strokeDash": [1,1.5], "strokeWidth": 1}, "encoding": {}},
      {"data": {"values": [{"a":0.198},{"a":1.27}]}, "mark": {"type": "rule", "stroke": "#111", "strokeDash": [3,2], "strokeWidth": 1.4}, "encoding": {}},
      {"data": {"values": [{"a":0.79}]}, "mark": {"type": "rule", "stroke": "#111", "strokeWidth": 1.4}, "encoding": {}}
     ]},
    {"width": 110.5, "height": 113.5, "view": {"stroke": null}, "data": {"values": []}, "mark": "point"},
    {"width": 110.5, "height": 113.5, "view": {"fill": "#ffffd9", "stroke": "#222"},
     "encoding": {
       "x": {"field": "a", "type": "quantitative", "scale": {"domain": [0.15, 4.85], "nice": false, "zero": false}, "axis": {"values": [1,2,3,4], "format": "d", "labelAngle": -45, "title": "fc"}},
       "y": {"field": "y0", "type": "quantitative", "scale": {"domain": [0.5, 5], "nice": false, "zero": false}, "axis": {"values": [1,2,3,4], "format": "d", "title": "AP"}}
     },
     "layer": [
      {"data": {"name": "hC"},
       "transform": [{"flatten": ["v"]}, {"window": [{"op": "row_number", "as": "i"}], "groupby": ["y0"]}, {"lookup": "i", "from": {"data": {"name": "fgrid"}, "key": "i", "fields": ["a", "b"]}}],
       "mark": {"type": "rect", "strokeWidth": 0.6},
       "encoding": {
        "x2": {"field": "b"},
        "y2": {"field": "y1"},
        "fill": {"field": "v", "type": "quantitative", "scale": {"scheme": "yellowgreenblue", "domain": [0, 1]}, "legend": null},
        "stroke": {"field": "v", "type": "quantitative", "scale": {"scheme": "yellowgreenblue", "domain": [0, 1]}, "legend": null}
       }},
      {"data": {"name": "cont"}, "transform": [{"filter": {"field": "pn", "equal": "C"}}],
       "mark": {"type": "line", "interpolate": "cardinal", "strokeWidth": 1, "clip": true},
       "encoding": {"order": {"field": "o"}, "detail": {"field": "g"}, "color": {"field": "c", "type": "nominal", "scale": {"domain": ["in","mid","out"], "range": ["#1c1c1c","#5b5bb0","#4f9a34"]}, "legend": null}}}
     ]},
    {"width": 110.5, "height": 113.5, "view": {"fill": "#ffffd9", "stroke": "#222"},
     "encoding": {
       "x": {"field": "a", "type": "quantitative", "scale": {"domain": [0, 1], "nice": false, "zero": false}, "axis": {"values": [0,0.2,0.4,0.6,0.8], "format": ".1f", "labelAngle": -45, "title": "poff"}},
       "y": {"field": "y0", "type": "quantitative", "scale": {"domain": [0.5, 5], "nice": false, "zero": false}, "axis": {"values": [1,2,3,4], "labels": false, "title": null}}
     },
     "layer": [
      {"data": {"name": "hE"},
       "transform": [{"flatten": ["v"]}, {"window": [{"op": "row_number", "as": "i"}], "groupby": ["y0"]}, {"lookup": "i", "from": {"data": {"name": "pgrid"}, "key": "i", "fields": ["a", "b"]}}],
       "mark": {"type": "rect", "strokeWidth": 0.6},
       "encoding": {
        "x2": {"field": "b"},
        "y2": {"field": "y1"},
        "fill": {"field": "v", "type": "quantitative", "scale": {"type": "pow", "exponent": 0.7, "scheme": "yellowgreenblue", "domain": [0, 1]}, "legend": null},
        "stroke": {"field": "v", "type": "quantitative", "scale": {"type": "pow", "exponent": 0.7, "scheme": "yellowgreenblue", "domain": [0, 1]}, "legend": null}
       }},
      {"data": {"name": "cont"}, "transform": [{"filter": {"field": "pn", "equal": "E"}}],
       "mark": {"type": "line", "interpolate": "cardinal", "strokeWidth": 1, "clip": true},
       "encoding": {"order": {"field": "o"}, "detail": {"field": "g"}, "color": {"field": "c", "type": "nominal", "scale": {"domain": ["in","mid","out"], "range": ["#1c1c1c","#5b5bb0","#4f9a34"]}, "legend": null}}}
     ]},
    {"width": 110.5, "height": 113.5, "view": {"fill": "#ffffd9", "stroke": "#222"},
     "encoding": {
       "x": {"field": "a", "type": "quantitative", "scale": {"domain": [0, 1.5], "nice": false, "zero": false}, "axis": {"values": [0,0.5,1.0], "format": ".1f", "labelAngle": -45, "title": "ℛoff"}},
       "y": {"field": "y0", "type": "quantitative", "scale": {"domain": [0.5, 5], "nice": false, "zero": false}, "axis": {"values": [1,2,3,4], "labels": false, "title": null}}
     },
     "layer": [
      {"data": {"name": "hF"},
       "transform": [{"flatten": ["v"]}, {"window": [{"op": "row_number", "as": "i"}], "groupby": ["y0"]}, {"lookup": "i", "from": {"data": {"name": "rgrid"}, "key": "i", "fields": ["a", "b"]}}],
       "mark": {"type": "rect", "strokeWidth": 0.6},
       "encoding": {
        "x2": {"field": "b"},
        "y2": {"field": "y1"},
        "fill": {"field": "v", "type": "quantitative", "scale": {"type": "pow", "exponent": 0.7, "scheme": "yellowgreenblue", "domain": [0, 1]}, "legend": null},
        "stroke": {"field": "v", "type": "quantitative", "scale": {"type": "pow", "exponent": 0.7, "scheme": "yellowgreenblue", "domain": [0, 1]}, "legend": null}
       }},
      {"data": {"name": "cont"}, "transform": [{"filter": {"field": "pn", "equal": "F"}}],
       "mark": {"type": "line", "interpolate": "cardinal", "strokeWidth": 1, "clip": true},
       "encoding": {"order": {"field": "o"}, "detail": {"field": "g"}, "color": {"field": "c", "type": "nominal", "scale": {"domain": ["in","mid","out"], "range": ["#1c1c1c","#5b5bb0","#4f9a34"]}, "legend": null}}},
      {"data": {"values": [{"a": 0.72, "y0": 4.55, "t": "ℛoff"}]}, "mark": {"type": "text", "font": "Liberation Serif", "fontStyle": "italic", "fontSize": 13, "color": "#333"},
       "encoding": {"text": {"field": "t"}}}
     ]},
    {"width": 110.5, "height": 113.5,
     "encoding": {"x": {"field": "a", "type": "quantitative", "scale": {"domain": [0.5, 5], "nice": false, "zero": false}, "axis": {"values": [1,2,3,4,5], "format": "d", "labelAngle": -45, "title": "AP"}}},
     "layer": [
      {"data": {"values": [{"a":0.5,"b":0.8,"h":0.62},{"a":0.8,"b":1.1,"h":0.75},{"a":1.1,"b":1.4,"h":0.85},{"a":1.4,"b":1.7,"h":0.95},{"a":1.7,"b":2.0,"h":1.0},{"a":2.0,"b":2.3,"h":0.955},{"a":2.3,"b":2.6,"h":0.86},{"a":2.6,"b":2.9,"h":0.72},{"a":2.9,"b":3.2,"h":0.585},{"a":3.2,"b":3.5,"h":0.455},{"a":3.5,"b":3.8,"h":0.33},{"a":3.8,"b":4.1,"h":0.23},{"a":4.1,"b":4.4,"h":0.15},{"a":4.4,"b":4.7,"h":0.1},{"a":4.7,"b":5.0,"h":0.055}]},
       "mark": {"type": "rect", "fill": "#c0c0c0", "stroke": "#4d4d4d", "strokeWidth": 0.8},
       "encoding": {
        "x2": {"field": "b"},
        "y": {"field": "h", "type": "quantitative", "scale": {"domain": [0, 1], "nice": false}, "axis": {"orient": "right", "values": [0.2,0.4,0.6,0.8,1.0], "format": ".1f", "title": "𝒫 (AP)", "titleAngle": 270, "titleBaseline": "top", "titleFontSize": 11, "titlePadding": 1}},
        "y2": {"datum": 0}
       }},
      {"data": {"values": [{"a":0.56},{"a":4.57}]}, "mark": {"type": "rule", "stroke": "#777", "strokeDash": [1,1.5], "strokeWidth": 1}, "encoding": {}},
      {"data": {"values": [{"a":1.09},{"a":3.22}]}, "mark": {"type": "rule", "stroke": "#111", "strokeDash": [3,2], "strokeWidth": 1.4}, "encoding": {}},
      {"data": {"values": [{"a":2.03}]}, "mark": {"type": "rule", "stroke": "#111", "strokeWidth": 1.4}, "encoding": {}}
     ]}
]
}
